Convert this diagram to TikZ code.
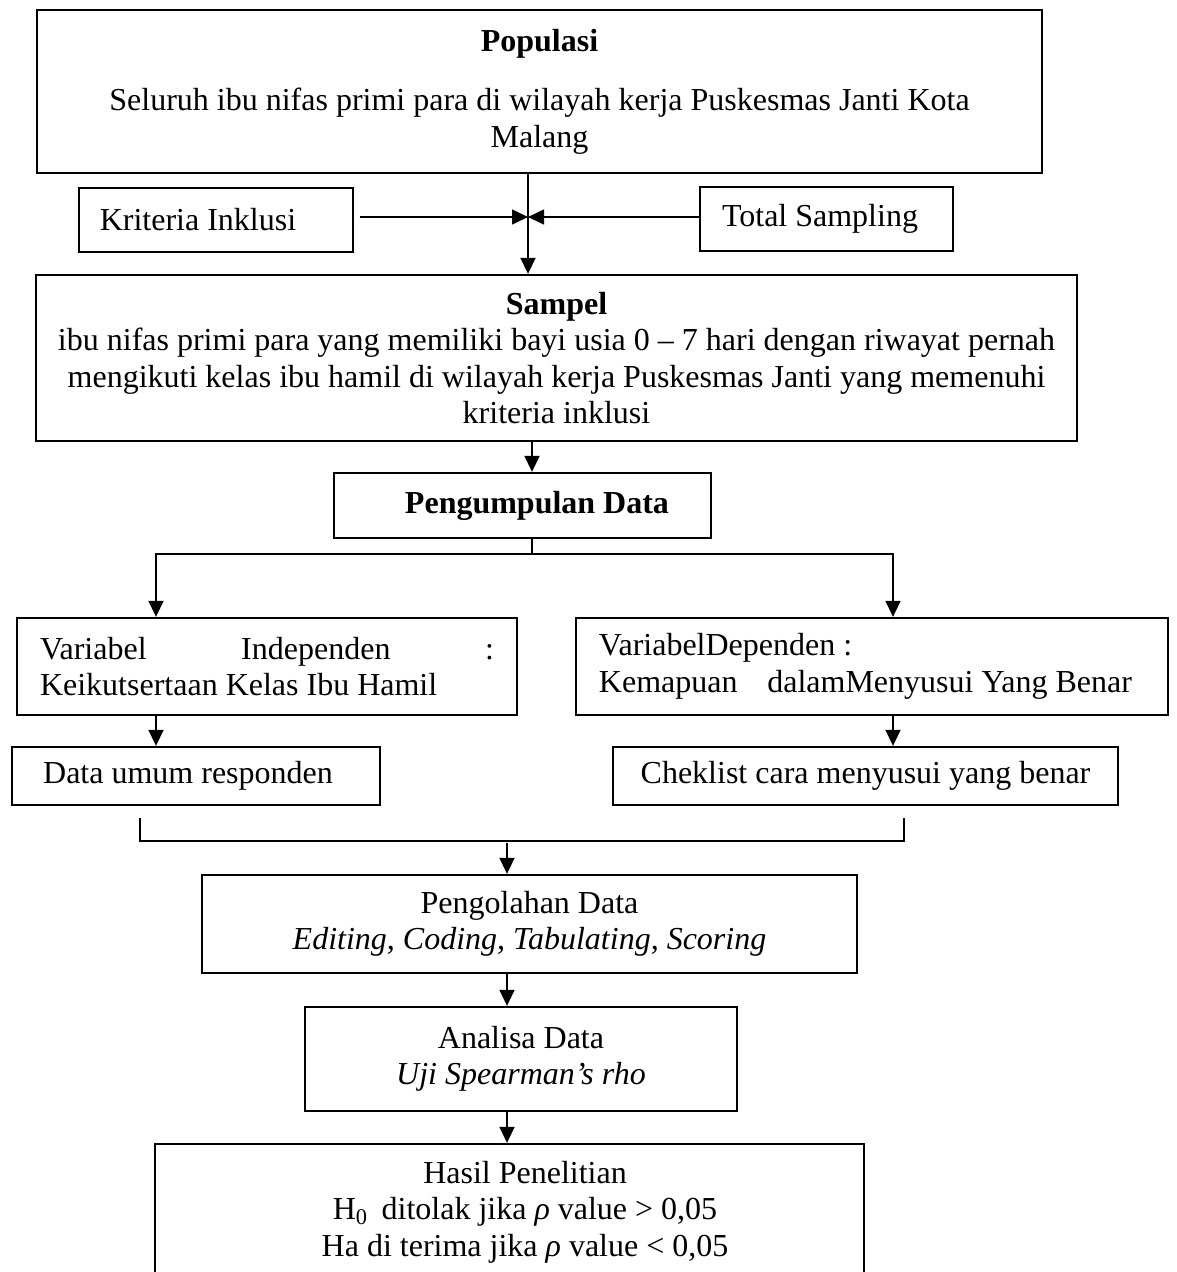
\documentclass[tikz,border=0pt]{standalone}
\usepackage{fontspec}
\setmainfont{Liberation Serif}
\usetikzlibrary{arrows.meta,positioning}

\newcommand{\pxu}{0.4375pt}
\newcommand{\geser}[2]{\hspace*{#1}\begin{tabular}{@{}c@{}}#2\end{tabular}}

\tikzset{
    >={Triangle[length=7pt,width=6.5pt]},
    box/.style 2 args={draw=black, line width=1pt, inner sep=0pt, align=center,
        minimum width=#1*\pxu, minimum height=#2*\pxu, font=\fontsize{14}{16}\selectfont},
    garis/.style={line width=0.9pt},
}

\begin{document}
\begin{tikzpicture}[x=\pxu, y=-\pxu]
    \useasboundingbox (0,0) rectangle (1176,1272);
    \node [box={1005}{163}] (populasi) at (539.5,91.5)
        {\textbf{Populasi}\\[10pt] Seluruh ibu nifas primi para di wilayah kerja Puskesmas Janti Kota\\ Malang};
    \node [box={274}{64}] (inklusi) at (216,220) {\hspace*{-15.75pt}Kriteria Inklusi};
    \node [box={253}{64}] (total) at (826.5,219) {\hspace*{-5.7pt}Total Sampling};
    \node [box={1041}{166}] (sampel) at (556.5,358)
        {\textbf{Sampel}\\ ibu nifas primi para yang memiliki bayi usia 0 – 7 hari dengan riwayat pernah\\
         mengikuti kelas ibu hamil di wilayah kerja Puskesmas Janti yang memenuhi\\ kriteria inklusi};
    \node [box={377}{65}] (kumpul) at (522.5,505.5) {\hspace*{12.7pt}\textbf{Pengumpulan Data}};
    \node [box={500}{97}, text width=198.6pt, align=flush left] (indep) at (267,666.5)
        {\hbox to 198.6pt{Variabel\hfill Independen\hfill :}\\ Keikutsertaan Kelas Ibu Hamil};
    \node [box={592}{97}, text width=238.9pt, align=flush left] (dep) at (872,666.5)
        {VariabelDependen :\\ Kemapuan\hspace{13pt}dalamMenyusui Yang Benar};
    \node [box={368}{58}] (umum) at (196,776) {\hspace*{-7pt}Data umum responden};
    \node [box={505}{58}] (cek) at (865.5,776) {Cheklist cara menyusui yang benar};
    \node [box={655}{98}] (olah) at (529.5,924)
        {Pengolahan Data\\ \textit{Editing, Coding, Tabulating, Scoring}};
    \node [box={432}{104}] (analisa) at (521,1059)
        {Analisa Data\\ \textit{Uji Spearman’s rho}};
    \node [box={709}{137}] (hasil) at (509.5,1212.5)
        {\geser{13.6pt}{Hasil Penelitian\\ H\textsubscript{0}\, ditolak jika \textit{ρ} value > 0,05\\
         Ha di terima jika \textit{ρ} value < 0,05}};

    % titik bantu
    \coordinate (tengah) at (528,217);
    \coordinate (cabang) at (532,554);
    \coordinate (kiri) at (156,554);
    \coordinate (kanan) at (893,554);
    \coordinate (kurungA) at (140,818);
    \coordinate (kurungB) at (904,818);
    \coordinate (gabung) at (507,843);

    \draw [garis, ->] (populasi.south -| tengah) -- (sampel.north -| tengah);
    \draw [garis, ->, shorten <=2.5pt] (inklusi.east |- tengah) -- (tengah);
    \draw [garis, ->] (total.west |- tengah) -- (tengah);
    \draw [garis, ->] (sampel.south -| cabang) -- (kumpul.north -| cabang);
    \draw [garis] (kumpul.south -| cabang) -- (cabang);
    \draw [garis, ->] (cabang) -- (kiri) -- (kiri |- indep.north);
    \draw [garis, ->] (cabang) -- (kanan) -- (kanan |- dep.north);
    \draw [garis, ->] (kiri |- indep.south) -- (kiri |- umum.north);
    \draw [garis, ->] (kanan |- dep.south) -- (kanan |- cek.north);
    \draw [garis] (kurungA) -- ++(0,23) -| (kurungB);
    \draw [garis, ->] (gabung) -- (gabung |- olah.north);
    \draw [garis, ->] (olah.south -| gabung) -- (analisa.north -| gabung);
    \draw [garis, ->] (analisa.south -| gabung) -- (hasil.north -| gabung);
\end{tikzpicture}
\end{document}
